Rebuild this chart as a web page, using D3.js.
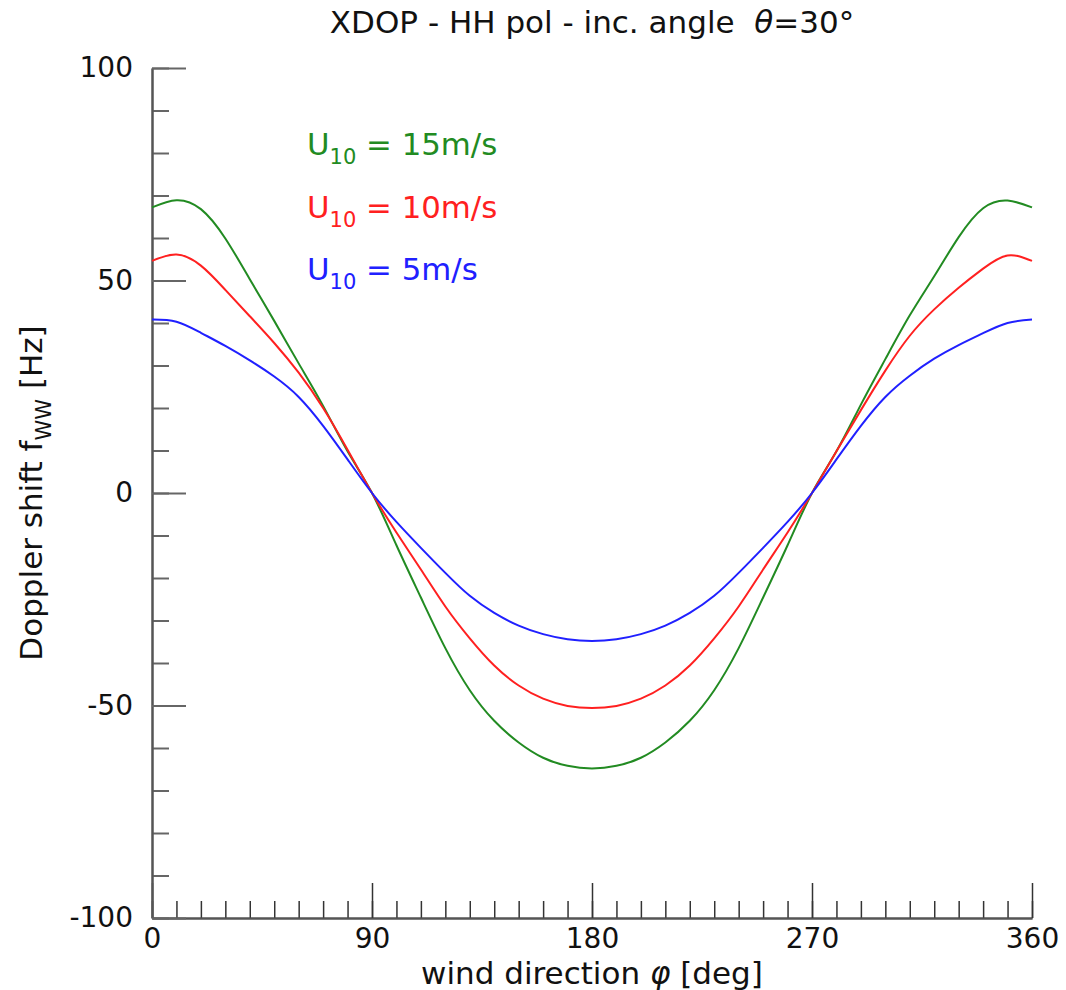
<!DOCTYPE html>
<html>
<head>
<meta charset="utf-8">
<script src="https://cdn.jsdelivr.net/npm/d3@7"></script>
<style>
  body { margin: 0; background: #fff; }
  svg text { font-family: "DejaVu Sans", sans-serif; fill: #111; }
  .line { fill: none; stroke-width: 2; }
</style>
</head>
<body>
<div id="chart"></div>
<script>
// wind direction, deg
var directions = d3.range(0, 361, 10);

// Doppler shift f_ww [Hz], every 10 deg
var u15 = [67.2, 68.9, 66.8, 59.9, 50.3, 40.5, 30.5, 20.5, 9.8, 0,
    -12.3, -24.6, -36.5, -46.4, -53.6, -58.7, -62.3, -64.2, -64.8,
    -64.2, -62.3, -58.7, -53.6, -46.4, -36.5, -24.6, -12.3, 0,
    9.8, 20.8, 31.5, 41.8, 51.0, 60.2, 67.0, 68.8, 67.2];
var u10 = [54.6, 56.1, 53.5, 47.8, 41.6, 35.3, 28.3, 20.0, 10.2, 0,
    -9.3, -18.0, -26.7, -34.2, -40.6, -45.3, -48.4, -50.1, -50.6,
    -50.1, -48.4, -45.3, -40.6, -34.2, -26.7, -18.0, -9.3, 0,
    9.8, 19.5, 28.8, 37.0, 43.2, 48.3, 52.8, 55.9, 54.6];
var u5 = [40.8, 40.3, 37.7, 34.6, 31.2, 27.4, 22.6, 15.8, 7.9, 0,
    -6.8, -12.9, -18.8, -24.2, -28.2, -31.2, -33.2, -34.4, -34.8,
    -34.4, -33.2, -31.2, -28.2, -24.2, -18.8, -12.9, -6.8, 0,
    7.9, 15.8, 22.6, 27.6, 31.6, 34.8, 37.6, 40.0, 40.8];

var seriesNames = ['15m/s', '10m/s', '5m/s'];
var seriesColors = ['#228b22', '#ff2020', '#2020ff'];

var xMajor = [0, 90, 180, 270, 360];
var yMajor = [-100, -50, 0, 50, 100];

var margin = {top: 68, right: 34, bottom: 72, left: 152},
    width = 1066 - margin.left - margin.right,
    height = 990 - margin.top - margin.bottom;

var x = d3.scaleLinear().domain([0, 360]).range([0, width]);
var y = d3.scaleLinear().domain([-100, 100]).range([height, 0]);

var svg = d3.select('#chart')
    .append('svg')
        .attr('width', width + margin.left + margin.right)
        .attr('height', height + margin.top + margin.bottom);

var g = svg.append('g')
    .attr('transform', 'translate(' + margin.left + ',' + margin.top + ')');

// Axes: ticks point inward, minor every 10
g.append('g')
    .attr('class', 'x minor')
    .attr('transform', 'translate(0,' + height + ')')
    .call(d3.axisBottom(x).tickValues(d3.range(0, 361, 10)).tickSize(-17).tickSizeOuter(0).tickFormat(''));
g.append('g')
    .attr('class', 'x major')
    .attr('transform', 'translate(0,' + height + ')')
    .call(d3.axisBottom(x).tickValues(xMajor).tickSize(-35).tickSizeOuter(0).tickPadding(10).tickFormat(String));

g.append('g')
    .attr('class', 'y minor')
    .call(d3.axisLeft(y).tickValues(d3.range(-100, 101, 10)).tickSize(-17).tickSizeOuter(0).tickFormat(''));
g.append('g')
    .attr('class', 'y major')
    .call(d3.axisLeft(y).tickValues(yMajor).tickSize(-34).tickSizeOuter(0).tickPadding(19).tickFormat(String));

g.selectAll('.x .tick line').attr('stroke', '#333').attr('stroke-width', 1.5);
g.selectAll('.y .tick line').attr('stroke', '#666').attr('stroke-width', 2);
g.selectAll('.domain').attr('stroke', '#555').attr('stroke-width', 2);
g.selectAll('.tick text')
    .attr('font-size', 28)
    .attr('font-family', '"DejaVu Sans", sans-serif')
    .attr('fill', '#111');

// Curves
var line = d3.line()
    .x(function(d, i) { return x(directions[i]); })
    .y(function(d) { return y(d); })
    .curve(d3.curveNatural);

[u15, u10, u5].forEach(function(s, i) {
    g.append('path')
        .attr('class', 'line')
        .attr('stroke', seriesColors[i])
        .attr('d', line(s));
});

// Legend
seriesNames.forEach(function(name, i) {
    var t = g.append('text')
        .attr('x', 155)
        .attr('y', 87 + i * 62.5)
        .attr('font-size', 30.8)
        .style('fill', seriesColors[i]);
    t.append('tspan').text('U');
    t.append('tspan').attr('font-size', 21).attr('dy', 9).text('10');
    t.append('tspan').attr('dy', -9).text(' = ' + name);
});

// Title
svg.append('text')
    .attr('x', 592)
    .attr('y', 33)
    .attr('text-anchor', 'middle')
    .attr('font-size', 31)
    .html('XDOP - HH pol - inc. angle&#160;&#160;<tspan font-style="italic">θ</tspan>=30°');

// Axis titles
svg.append('text')
    .attr('x', margin.left + width / 2)
    .attr('y', 984)
    .attr('text-anchor', 'middle')
    .attr('font-size', 31)
    .html('wind direction <tspan font-style="italic">φ</tspan> [deg]');

var yt = svg.append('text')
    .attr('transform', 'translate(42,' + (margin.top + height / 2) + ') rotate(-90)')
    .attr('text-anchor', 'middle')
    .attr('font-size', 31);
yt.append('tspan').text('Doppler shift f');
yt.append('tspan').attr('font-size', 21).attr('dy', 9).text('WW');
yt.append('tspan').attr('dy', -9).text(' [Hz]');
</script>
</body>
</html>
